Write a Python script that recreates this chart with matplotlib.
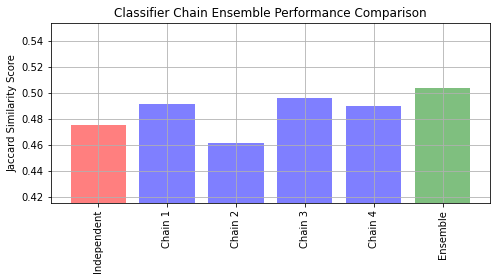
import matplotlib
matplotlib.use("Agg")
import matplotlib.pyplot as plt
import numpy as np

model_names = ["Independent", "Chain 1", "Chain 2", "Chain 3", "Chain 4", "Ensemble"]
independent_score = [0.4754]
chain_scores = [0.4916, 0.4615, 0.4962, 0.4900]
ensemble_score = [0.5041]

model_scores = independent_score + chain_scores + ensemble_score
x_pos = np.arange(len(model_names))

fig, ax = plt.subplots(figsize=(496 / 72, 280 / 72), dpi=72)
ax.grid(True)
ax.set_title("Classifier Chain Ensemble Performance Comparison")
ax.set_xticks(x_pos)
ax.set_xticklabels(model_names, rotation="vertical")
ax.set_ylabel("Jaccard Similarity Score")
ax.set_ylim([min(model_scores) * 0.9, max(model_scores) * 1.1])
colors = ["r"] + ["b"] * len(chain_scores) + ["g"]
ax.bar(x_pos, model_scores, alpha=0.5, color=colors)
fig.subplots_adjust(left=0.102, right=0.9885, top=0.9196, bottom=0.275)
fig.savefig("out.png", dpi=72)
